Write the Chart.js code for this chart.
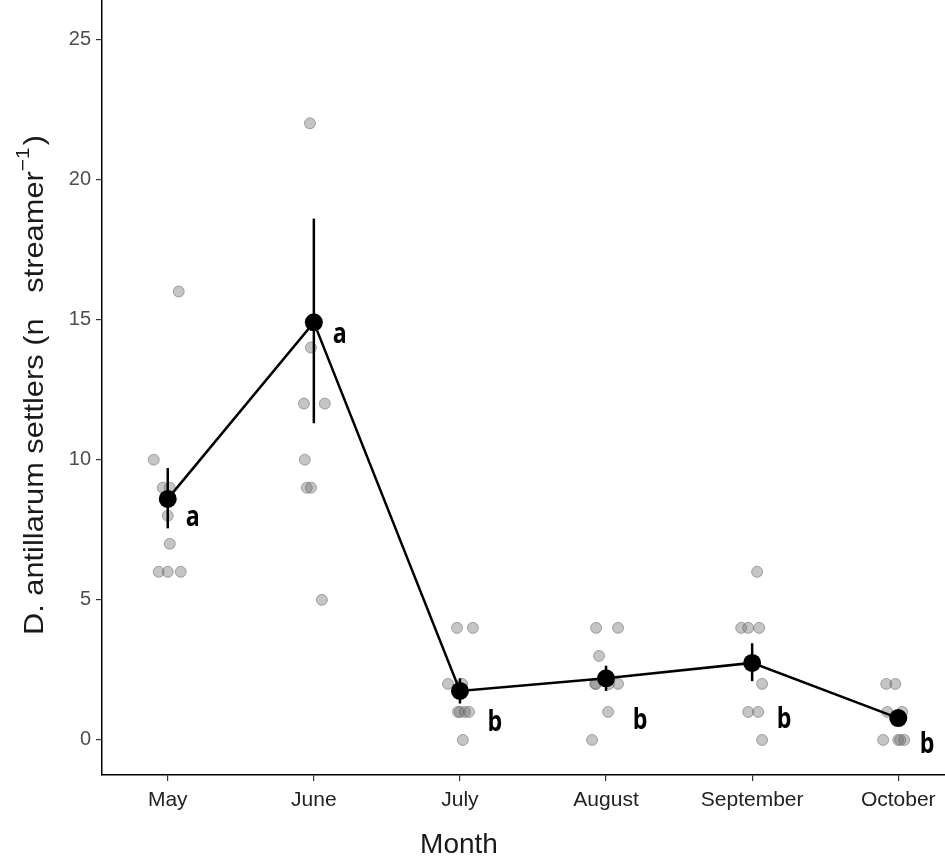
<!DOCTYPE html>
<html>
<head>
<meta charset="utf-8">
<script src="https://cdn.jsdelivr.net/npm/chart.js@4"></script>
<style>
  html, body { margin: 0; padding: 0; background: #fff; }
  #wrap { width: 945px; height: 856px; }
</style>
</head>
<body>
<div id="wrap"><canvas id="chart"></canvas></div>
<script>
// DATA
const months = ['May', 'June', 'July', 'August', 'September', 'October'];
const means = [8.6, 14.9, 1.75, 2.2, 2.75, 0.78];
const errLow = [7.55, 11.3, 1.3, 1.75, 2.1, 0.5];
const errHigh = [9.7, 18.6, 2.2, 2.65, 3.45, 1.05];
const letters = ['a', 'a', 'b', 'b', 'b', 'b'];
const letterX = [0.171, 1.178, 2.239, 3.233, 4.219, 5.198];
const letterY = [7.92, 14.44, 0.71, 0.78, 0.82, -0.07];
const yTicks = [0, 5, 10, 15, 20, 25];
const xTitle = 'Month';
const yTitle = 'D. antillarum settlers (n   streamer';
const yTitleSup = '\u22121';

// raw observations: month position (index + jitter) and count
const obsMonth = [
  0.075, -0.096, -0.034, 0.014, 0, 0.014, -0.062, 0, 0.089,
  0.973, 0.98, 0.932, 1.075, 0.938, 0.952, 0.98, 1.055,
  1.98, 2.089, 1.918, 2.014, 1.986, 2, 2.034, 2.062, 2.02,
  2.932, 3.082, 2.952, 2.925, 2.932, 3.02, 3.082, 3.014, 2.904,
  4.034, 3.925, 3.973, 4.048, 4.068, 3.973, 4.041, 4.068,
  4.918, 4.98, 4.925, 5.027, 4.897, 5, 5.014, 5.041
];
const obsValue = [
  16, 10, 9, 9, 8, 7, 6, 6, 6,
  22, 14, 12, 12, 10, 9, 9, 5,
  4, 4, 2, 2, 1, 1, 1, 1, 0,
  4, 4, 3, 2, 2, 2, 2, 1, 0,
  6, 4, 4, 4, 2, 1, 1, 0,
  2, 2, 1, 1, 0, 0, 0, 0
];

// START OF PLUGINS
const errorBars = {
  id: 'errorBars',
  afterDatasetsDraw(chart) {
    const { ctx, scales: { x, y } } = chart;
    ctx.save();
    ctx.strokeStyle = '#000';
    ctx.lineWidth = 2.5;
    errLow.forEach((lo, i) => {
      const px = x.getPixelForValue(i);
      ctx.beginPath();
      ctx.moveTo(px, y.getPixelForValue(lo));
      ctx.lineTo(px, y.getPixelForValue(errHigh[i]));
      ctx.stroke();
    });
    ctx.restore();
  }
};

const groupLetters = {
  id: 'groupLetters',
  afterDraw(chart) {
    const { ctx, scales: { x, y } } = chart;
    ctx.fillStyle = '#000';
    ctx.textAlign = 'center';
    ctx.textBaseline = 'alphabetic';
    letters.forEach((l, i) => {
      // centre of the glyph sits on the point, so drop the baseline a bit
      const drop = l === 'a' ? 8 : 11;
      ctx.save();
      ctx.translate(x.getPixelForValue(letterX[i]), y.getPixelForValue(letterY[i]) + drop);
      ctx.scale(0.8, 1);
      ctx.font = 'bold 29px "Open Sans", sans-serif';
      ctx.fillText(l, 0, 0);
      ctx.restore();
    });
  }
};

// axis titles drawn by hand so the superscript sits right
const axisTitles = {
  id: 'axisTitles',
  afterDraw(chart) {
    const { ctx } = chart;
    const font = '"Liberation Sans", Arial, sans-serif';
    ctx.save();
    ctx.fillStyle = '#1a1a1a';
    ctx.textBaseline = 'alphabetic';

    ctx.font = '28px ' + font;
    ctx.textAlign = 'center';
    ctx.fillText(xTitle, 459, 853);

    // y title, rotated and a little stretched along its length
    ctx.translate(43, 385);
    ctx.rotate(-Math.PI / 2);
    ctx.scale(1.1, 1);
    ctx.textAlign = 'left';
    const mainW = ctx.measureText(yTitle).width;
    ctx.font = '19px ' + font;
    const supW = ctx.measureText(yTitleSup).width;
    ctx.font = '28px ' + font;
    const closeW = ctx.measureText(')').width;
    let start = -(mainW + supW + closeW + 2) / 2;
    ctx.fillText(yTitle, start, 0);
    start += mainW;
    ctx.font = '19px ' + font;
    ctx.fillText(yTitleSup, start, -14);
    start += supW + 2;
    ctx.font = '28px ' + font;
    ctx.fillText(')', start, 0);
    ctx.restore();
  }
};
// END OF PLUGINS

// START OF CHART INIT
const ctx = document.getElementById('chart');
new Chart(ctx, {
  type: 'scatter',
  data: {
    datasets: [
      {
        label: 'means',
        type: 'line',
        data: means.map((m, i) => ({ x: i, y: m })),
        borderColor: '#000',
        borderWidth: 2.5,
        backgroundColor: '#000',
        pointRadius: 9,
        pointBorderWidth: 0,
        order: 0
      },
      {
        label: 'observations',
        data: obsValue.map((v, i) => ({ x: obsMonth[i], y: v })),
        backgroundColor: 'rgba(110,110,110,0.4)',
        borderColor: 'rgba(95,95,95,0.5)',
        borderWidth: 1,
        pointRadius: 5.5,
        order: 1
      }
    ]
  },
  options: {
    responsive: true,
    maintainAspectRatio: false,
    animation: false,
    layout: { padding: 0, autoPadding: false },
    plugins: {
      legend: { display: false },
      tooltip: { enabled: false }
    },
    scales: {
      x: {
        type: 'linear',
        min: -0.45,
        max: 5.32,
        afterBuildTicks: (s) => { s.ticks = months.map((m, i) => ({ value: i })); },
        afterFit: (s) => { s.height = 81; s.paddingLeft = 0; s.paddingRight = 0; },
        ticks: {
          callback: (v) => months[v],
          color: '#222',
          font: { family: '"Liberation Sans", Arial, sans-serif', size: 21 },
          padding: 7,
          maxRotation: 0,
          autoSkip: false
        },
        grid: { drawOnChartArea: false, drawTicks: true, tickLength: 6, color: '#333', lineWidth: 1.2 },
        border: { color: '#000', width: 1.5 },
        title: { display: false }
      },
      y: {
        min: -1.25,
        max: 26.4,
        afterBuildTicks: (s) => { s.ticks = yTicks.map((v) => ({ value: v })); },
        afterFit: (s) => { s.width = 102; s.paddingTop = 0; s.paddingBottom = 0; },
        ticks: {
          color: '#4d4d4d',
          font: { family: '"Liberation Sans", Arial, sans-serif', size: 20 },
          padding: 5
        },
        grid: { drawOnChartArea: false, drawTicks: true, tickLength: 6, color: '#333', lineWidth: 1.2 },
        border: { color: '#000', width: 1.5 },
        title: { display: false }
      }
    }
  },
  plugins: [errorBars, groupLetters, axisTitles]
});
// END OF CHART INIT
</script>
</body>
</html>
